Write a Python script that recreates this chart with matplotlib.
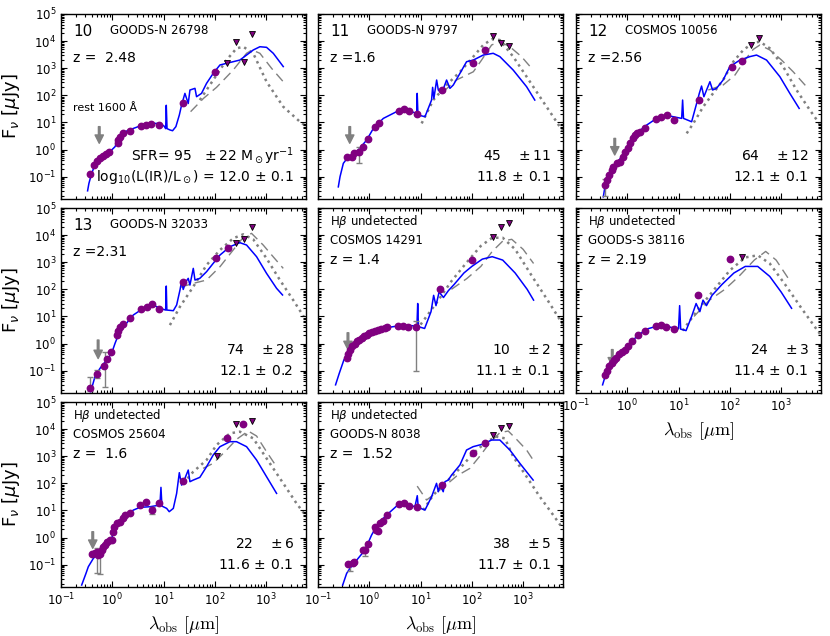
import numpy as np
import matplotlib
matplotlib.use('Agg')
import matplotlib.pyplot as plt
from matplotlib.ticker import LogLocator, NullFormatter

PURPLE = '#800080'
GREY = '0.5'

# ---------------- panel 10 : GOODS-N 26798 ----------------
p10_obs_lam = [0.36, 0.45, 0.50, 0.58, 0.67, 0.75, 0.88, 1.27, 1.31, 1.41, 1.64, 2.2, 3.6, 4.5, 5.8, 8.0, 24, 100]
p10_obs_flux = [0.13, 0.28, 0.38, 0.47, 0.57, 0.68, 0.83, 1.7, 2.2, 2.8, 4.0, 5.0, 7.4, 7.8, 8.7, 8.3, 50, 740]
p10_ul_lam = [175, 255, 365, 530]
p10_ul_flux = [1600, 9100, 1650, 17800]
p10_sed_lam = [0.33, 0.35, 0.38, 0.43, 0.50, 0.62, 0.78, 0.97, 1.13, 1.25, 1.52, 1.9, 2.57, 3.47, 4.68, 6.3,
               8.5, 10.2, 11.0, 11.3, 11.7, 13.3, 15.0, 17.4, 20.3, 22.5, 26.1, 30.3, 32.7, 41, 44, 55, 69,
               93, 126, 169, 228, 308, 416, 561, 757, 1020, 1380, 2160]
p10_sed_flux = [0.030, 0.056, 0.10, 0.20, 0.33, 0.54, 0.72, 0.96, 1.27, 1.95, 3.4, 4.8, 6.0, 7.4, 8.7, 9.2,
                9.2, 7.4, 5.9, 43, 5.9, 5.3, 4.95, 7.0, 18.7, 44, 118, 50, 157, 181, 89, 118, 277,
                645, 1320, 1510, 1740, 2000, 3060, 4700, 6200, 5900, 3550, 1150]
p10_dash_lam = [33.7, 60, 108, 228, 416, 536, 757, 1280, 2160]
p10_dash_flux = [25, 77, 197, 855, 3550, 4700, 3550, 990, 318]
p10_dot_lam = [51, 93, 169, 265, 358, 561, 1020, 2160, 4550, 8900]
p10_dot_flux = [67, 367, 2000, 5400, 6200, 3550, 318, 38, 10.7, 4.2]

# ---------------- panel 11 : GOODS-N 9797 ----------------
p11_obs_lam = [0.373, 0.467, 0.503, 0.64, 0.77, 0.96, 1.29, 1.57, 3.79, 4.74, 6.0, 8.4, 25.8, 107, 180]
p11_obs_flux = [0.54, 0.51, 0.76, 0.83, 1.27, 2.37, 7.0, 9.8, 27, 32, 25.6, 20.4, 157, 1510, 4700]
p11_ul_lam = [262, 375, 537]
p11_ul_flux = [15900, 8300, 6600]
p11_eb_lam = [0.64]
p11_eb_flux = [0.83]
p11_eb_lo = [0.50]
p11_eb_hi = [0.45]
p11_sed_lam = [0.249, 0.269, 0.312, 0.39, 0.57, 0.89, 1.20, 1.88, 3.41, 5.35, 8.4, 8.6, 8.9, 12.2, 16.4, 17.2,
               18.2, 20.6, 22.2, 25.8, 32.2, 37.4, 43.5, 58.6, 79, 107, 167, 261, 352, 641, 1170, 1690]
p11_sed_flux = [0.042, 0.10, 0.31, 0.54, 0.83, 2.24, 6.0, 14.1, 25, 28.6, 21.6, 118, 18.8, 16.3, 67, 197,
                77, 367, 157, 118, 367, 181, 240, 645, 1740, 2000, 3060, 3550, 2680, 855, 208, 67]
p11_dash_lam = [27.7, 50, 107, 155, 243, 352, 552, 931, 1570]
p11_dash_flux = [136, 367, 740, 2000, 7200, 9500, 6200, 2670, 857]
p11_dot_lam = [10.5, 17.7, 32, 59, 107, 167, 243, 352, 641, 1170, 2120, 3860, 6050]
p11_dot_flux = [9.2, 67, 240, 740, 2670, 7200, 11600, 11000, 2670, 488, 89, 16.3, 4.5]

# ---------------- panel 12 : COSMOS 10056 ----------------
p12_obs_lam = [0.367, 0.396, 0.44, 0.495, 0.534, 0.62, 0.72, 0.84, 0.90, 1.05, 1.13, 1.31, 1.41, 1.57, 1.77,
               2.21, 3.62, 4.54, 5.85, 8.26, 25.4, 108, 175]
p12_obs_flux = [0.049, 0.075, 0.115, 0.175, 0.233, 0.31, 0.356, 0.54, 0.83, 1.10, 1.69, 2.58, 3.43, 3.95, 4.55,
                6.4, 13.3, 15.4, 18.7, 12.3, 67, 1140, 1840]
p12_ul_lam = [262, 374]
p12_ul_flux = [7200, 13400]
p12_eb_lam = [0.367]
p12_eb_flux = [0.049]
p12_eb_lo = [0.03]
p12_eb_hi = [0.03]
p12_sed_lam = [0.341, 0.367, 0.46, 0.62, 0.97, 1.52, 2.39, 3.73, 6.8, 11.5, 12.0, 12.5, 18.0, 22.5, 25.4, 28.1,
               31.2, 35.2, 40.9, 46.1, 55, 74, 100, 157, 247, 332, 520, 946, 1480, 2250]
p12_sed_flux = [0.018, 0.043, 0.132, 0.31, 0.96, 3.95, 8.0, 14.1, 17.2, 14.1, 67, 14.1, 10.6, 50, 118, 220,
                89, 157, 318, 157, 181, 367, 1140, 2000, 2680, 3060, 2000, 488, 118, 33]
p12_dash_lam = [38, 74, 126, 197, 286, 386, 604, 1020, 1720, 3130]
p12_dash_flux = [157, 240, 560, 2000, 4960, 7200, 4700, 2000, 740, 208]
p12_dot_lam = [14.4, 19.4, 30.3, 47, 74, 117, 183, 286, 386, 604, 1100, 2000, 3640, 6140]
p12_dot_flux = [3.95, 9.2, 38, 118, 367, 1740, 4700, 8700, 9500, 5400, 1140, 157, 28.6, 7.0]

# ---------------- panel 13 : GOODS-N 32033 ----------------
p13_obs_lam = [0.367, 0.495, 0.70, 0.80, 0.93, 1.25, 1.31, 1.41, 1.64, 2.21, 3.62, 4.68, 6.03, 8.26, 24.2, 105, 177]
p13_obs_flux = [0.0235, 0.075, 0.152, 0.26, 0.485, 2.06, 2.98, 4.18, 5.25, 9.0, 18.2, 22.9, 27.9, 18.2, 191,
                1390, 3440]
p13_ul_lam = [258, 363, 536]
p13_ul_flux = [4960, 6920, 20500]
p13_eb_lam = [0.367, 0.495, 0.73]
p13_eb_flux = [0.0235, 0.075, 0.152]
p13_eb_lo = [0.005, 0.023, 0.127]
p13_eb_hi = [0.036, 0.030, 0.35]
p13_sed_lam = [0.379, 0.46, 0.575, 0.776, 0.97, 1.13, 1.31, 1.77, 2.57, 4.03, 6.31, 8.5, 11.0, 11.3, 11.6, 15.5,
               18.0, 20.9, 22.5, 24.2, 27.3, 30.3, 32.7, 38, 41, 51, 69, 93, 126, 197, 308, 416, 652, 1020,
               1600, 2090]
p13_sed_flux = [0.0167, 0.060, 0.121, 0.246, 0.434, 1.01, 2.06, 4.8, 11.3, 19.9, 26.4, 19.9, 17.2, 132, 17.2,
                16.3, 26.4, 94, 191, 99, 191, 254, 144, 593, 220, 254, 447, 908, 1840, 3740, 5260, 4310,
                1600, 389, 109, 62]
p13_dash_lam = [20.9, 38, 69, 126, 228, 358, 520, 877, 1370, 2160]
p13_dash_flux = [118, 166, 220, 684, 2820, 8260, 11600, 4310, 1600, 593]
p13_dot_lam = [13.3, 20.9, 38, 69, 126, 228, 358, 561, 1020, 1860, 3380, 5440]
p13_dot_flux = [4.8, 22.9, 125, 789, 2820, 7600, 10700, 6980, 1390, 220, 40, 9.8]

# ---------------- panel 14 : COSMOS 14291 ----------------
p14_obs_lam = [0.36, 0.39, 0.43, 0.47, 0.52, 0.58, 0.64, 0.72, 0.8, 0.9, 1.0, 1.15, 1.3, 1.5, 1.7, 2.0, 2.2,
               3.6, 4.5, 5.8, 8.0, 24, 100]
p14_obs_flux = [0.3, 0.4, 0.6, 0.8, 1.0, 1.2, 1.4, 1.6, 1.9, 2.1, 2.4, 2.7, 3.0, 3.2, 3.5, 3.8, 4.0,
                4.3, 4.6, 4.2, 4.0, 100, 1200]
p14_ul_lam = [262, 375, 537]
p14_ul_flux = [8500, 20000, 28000]
p14_eb_lam = [8.0]
p14_eb_flux = [4.0]
p14_eb_lo = [3.9]
p14_eb_hi = [3.0]
p14_sed_lam = [0.22, 0.26, 0.32, 0.45, 0.7, 1.0, 1.6, 2.5, 4.0, 6.5, 8.5, 8.8, 9.1, 12, 16, 18, 20, 23, 28,
               35, 45, 70, 100, 160, 250, 400, 700, 1200, 1600]
p14_sed_flux = [0.03, 0.08, 0.25, 0.6, 1.3, 2.2, 3.2, 4.0, 4.6, 4.6, 4.3, 30, 4.2, 3.6, 15, 60, 25, 80, 50,
                90, 150, 400, 700, 1300, 1600, 1200, 400, 100, 40]
p14_dash_lam = [40, 80, 150, 250, 400, 600, 1000, 1600]
p14_dash_flux = [100, 250, 700, 2500, 6000, 7000, 3000, 900]
p14_dot_lam = [10, 20, 40, 80, 150, 250, 400, 700, 1500, 3000, 6000]
p14_dot_flux = [5, 30, 200, 1000, 4000, 8000, 8000, 3000, 300, 40, 5]

# ---------------- panel 15 : GOODS-S 38116 ----------------
p15_obs_lam = [0.36, 0.40, 0.45, 0.5, 0.55, 0.6, 0.7, 0.8, 0.9, 1.05, 1.25, 1.6, 2.2, 3.6, 4.5, 5.8, 8.0, 24, 100]
p15_obs_flux = [0.07, 0.1, 0.15, 0.2, 0.25, 0.3, 0.4, 0.5, 0.6, 0.8, 1.2, 2.0, 3.0, 4.5, 4.8, 4.0, 3.5, 60, 1300]
p15_ul_lam = [175]
p15_ul_flux = [1500]
p15_sed_lam = [0.33, 0.4, 0.6, 1.0, 1.6, 2.5, 4.0, 7.0, 10, 10.5, 11, 14, 18, 22, 26, 30, 35, 45, 70, 120,
               200, 350, 600, 1000, 1600]
p15_sed_flux = [0.03, 0.1, 0.3, 0.8, 2.0, 3.5, 4.5, 4.0, 3.5, 25, 3.4, 3.0, 10, 30, 15, 40, 25, 60, 150, 400,
                700, 700, 300, 80, 20]
p15_dash_lam = [20, 40, 80, 150, 300, 500, 800, 1500]
p15_dash_flux = [10, 40, 100, 300, 1200, 2500, 1200, 200]
p15_dot_lam = [12, 25, 50, 100, 200, 350, 600, 1200, 2500, 6000]
p15_dot_flux = [3, 20, 100, 500, 1500, 1800, 900, 150, 20, 2]

# ---------------- panel 16 : COSMOS 25604 ----------------
p16_obs_lam = [0.396, 0.46, 0.495, 0.534, 0.575, 0.62, 0.668, 0.72, 0.776, 0.90, 0.97, 1.05, 1.08, 1.22, 1.41,
               1.64, 1.77, 2.21, 3.47, 4.54, 5.85, 8.26, 24.2, 175, 358]
p16_obs_flux = [0.246, 0.26, 0.30, 0.226, 0.246, 0.346, 0.46, 0.53, 0.70, 0.81, 0.81, 1.64, 2.51, 3.33, 3.84,
                5.1, 6.76, 7.8, 15.8, 21, 10.3, 18.2, 122, 4570, 15000]
p16_ul_lam = [108, 258, 528]
p16_ul_flux = [1050, 15000, 20500]
p16_eb_lam = [0.495, 0.575, 5.85]
p16_eb_flux = [0.30, 0.246, 10.3]
p16_eb_lo = [0.25, 0.20, 3.0]
p16_eb_hi = [0.10, 0.10, 3.0]
p16_sed_lam = [0.253, 0.307, 0.341, 0.427, 0.575, 0.776, 0.97, 1.05, 1.41, 1.9, 2.57, 3.47, 5.43, 8.5, 8.9,
               9.3, 11.5, 12.9, 15.5, 18.0, 20.3, 22.5, 26.1, 30.3, 32.7, 38, 51, 69, 93, 126, 197, 265, 416,
               652, 1020, 1600]
p16_sed_flux = [0.0177, 0.0476, 0.084, 0.17, 0.30, 0.46, 0.81, 1.89, 3.84, 6.76, 10.3, 13.0, 13.7, 15.8, 71,
                14.5, 11.9, 9.0, 11.9, 42.6, 247, 86, 153, 309, 115, 132, 166, 411, 1110, 2250, 3440, 3440,
                2250, 724, 176, 42.6]
p16_dash_lam = [59, 93, 169, 265, 448, 652, 1020, 1600]
p16_dash_flux = [357, 546, 1690, 4190, 8500, 5560, 1470, 410]
p16_dot_lam = [24.2, 38, 69, 108, 197, 308, 561, 1020, 2160, 3920, 6140]
p16_dot_flux = [100, 268, 724, 2590, 6980, 8040, 4560, 834, 100, 18.2, 5.9]

# ---------------- panel 17 : GOODS-N 8038 ----------------
p17_obs_lam = [0.39, 0.474, 0.503, 0.743, 0.824, 0.96, 1.29, 1.35, 1.50, 1.62, 1.82, 2.25, 3.73, 4.81, 6.03,
               8.38, 25.8, 107, 180]
p17_obs_flux = [0.102, 0.111, 0.128, 0.346, 0.346, 0.575, 2.51, 1.89, 1.79, 3.52, 4.06, 6.76, 16.7, 19.3, 14.5,
                13.0, 86, 1280, 3160]
p17_ul_lam = [262, 375, 537]
p17_ul_flux = [6050, 10700, 13400]
p17_eb_lam = [0.42, 0.824]
p17_eb_flux = [0.102, 0.346]
p17_eb_lo = [0.045, 0.14]
p17_eb_hi = [0.02, 0.12]
p17_sed_lam = [0.303, 0.362, 0.42, 0.57, 0.824, 1.11, 1.50, 2.18, 3.41, 5.35, 7.78, 8.63, 9.02, 12.2, 16.4,
               20.5, 22.2, 23.9, 27.7, 29.9, 34.7, 40.3, 58.5, 78.9, 106, 167, 243, 352, 552, 865, 1570]
p17_sed_flux = [0.0177, 0.0476, 0.073, 0.148, 0.346, 1.24, 3.33, 6.76, 14.5, 17.2, 13.7, 35, 13.0, 10.3, 32,
                100, 49, 86, 49, 115, 132, 202, 473, 1690, 2250, 2820, 3960, 3960, 1690, 546, 132]
p17_dash_lam = [8.6, 13.1, 27.7, 50.5, 91.8, 144, 225, 352, 513, 745, 1170, 1570]
p17_dash_flux = [79, 24.2, 71, 186, 357, 1020, 3160, 7380, 8500, 4190, 1690, 724]
p17_dot_lam = [11.3, 17.7, 32.2, 58.6, 107, 194, 303, 442, 641, 1170, 2120, 3860, 5610]
p17_dot_flux = [10.3, 37, 115, 357, 1280, 3440, 5260, 4560, 962, 176, 32, 6.8, 2.51]

# ---------------- per-panel labels ----------------
num_labels = ['10', '11', '12', '13', '', '', '', '']
names = ['GOODS-N 26798', 'GOODS-N 9797', 'COSMOS 10056', 'GOODS-N 32033',
         'COSMOS 14291', 'GOODS-S 38116', 'COSMOS 25604', 'GOODS-N 8038']
z_labels = ['z =  2.48', 'z =1.6', 'z =2.56', 'z =2.31', 'z = 1.4', 'z = 2.19', 'z =  1.6', 'z =  1.52']
hb_undetected = [False, False, False, False, True, True, True, True]
sfr = ['95', '45', '64', '74', '10', '24', '22', '38']
sfr_err = ['22', '11', '12', '28', '2', '3', '6', '5']
lir = ['12.0', '11.8', '12.1', '12.1', '11.1', '11.4', '11.6', '11.7']
lir_err = ['0.1', '0.1', '0.1', '0.2', '0.1', '0.1', '0.1', '0.1']
# rest-frame 1600 A marker: wavelength (um), arrow top and tip flux (uJy)
arrow_lam = [0.557, 0.416, 0.570, 0.53, 0.384, 0.51, 0.416, None]
arrow_top = [7.0, 7.0, 2.58, 1.35, 2.5, 0.6, 1.64, None]
arrow_tip = [1.7, 1.7, 0.63, 0.28, 0.6, 0.15, 0.40, None]

panels = [
    dict(obs=(p10_obs_lam, p10_obs_flux), ul=(p10_ul_lam, p10_ul_flux), eb=None,
         sed=(p10_sed_lam, p10_sed_flux), dash=(p10_dash_lam, p10_dash_flux), dot=(p10_dot_lam, p10_dot_flux)),
    dict(obs=(p11_obs_lam, p11_obs_flux), ul=(p11_ul_lam, p11_ul_flux),
         eb=(p11_eb_lam, p11_eb_flux, p11_eb_lo, p11_eb_hi),
         sed=(p11_sed_lam, p11_sed_flux), dash=(p11_dash_lam, p11_dash_flux), dot=(p11_dot_lam, p11_dot_flux)),
    dict(obs=(p12_obs_lam, p12_obs_flux), ul=(p12_ul_lam, p12_ul_flux),
         eb=(p12_eb_lam, p12_eb_flux, p12_eb_lo, p12_eb_hi),
         sed=(p12_sed_lam, p12_sed_flux), dash=(p12_dash_lam, p12_dash_flux), dot=(p12_dot_lam, p12_dot_flux)),
    dict(obs=(p13_obs_lam, p13_obs_flux), ul=(p13_ul_lam, p13_ul_flux),
         eb=(p13_eb_lam, p13_eb_flux, p13_eb_lo, p13_eb_hi),
         sed=(p13_sed_lam, p13_sed_flux), dash=(p13_dash_lam, p13_dash_flux), dot=(p13_dot_lam, p13_dot_flux)),
    dict(obs=(p14_obs_lam, p14_obs_flux), ul=(p14_ul_lam, p14_ul_flux),
         eb=(p14_eb_lam, p14_eb_flux, p14_eb_lo, p14_eb_hi),
         sed=(p14_sed_lam, p14_sed_flux), dash=(p14_dash_lam, p14_dash_flux), dot=(p14_dot_lam, p14_dot_flux)),
    dict(obs=(p15_obs_lam, p15_obs_flux), ul=(p15_ul_lam, p15_ul_flux), eb=None,
         sed=(p15_sed_lam, p15_sed_flux), dash=(p15_dash_lam, p15_dash_flux), dot=(p15_dot_lam, p15_dot_flux)),
    dict(obs=(p16_obs_lam, p16_obs_flux), ul=(p16_ul_lam, p16_ul_flux),
         eb=(p16_eb_lam, p16_eb_flux, p16_eb_lo, p16_eb_hi),
         sed=(p16_sed_lam, p16_sed_flux), dash=(p16_dash_lam, p16_dash_flux), dot=(p16_dot_lam, p16_dot_flux)),
    dict(obs=(p17_obs_lam, p17_obs_flux), ul=(p17_ul_lam, p17_ul_flux),
         eb=(p17_eb_lam, p17_eb_flux, p17_eb_lo, p17_eb_hi),
         sed=(p17_sed_lam, p17_sed_flux), dash=(p17_dash_lam, p17_dash_flux), dot=(p17_dot_lam, p17_dot_flux)),
]

fig = plt.figure(figsize=(8.3, 6.36), dpi=100)
fw, fh = 830.0, 636.0
col_left = [61, 318, 576]
row_top = [14, 208, 402]
pw, ph = 245, 185

for i, p in enumerate(panels):
    r, c = divmod(i, 3)
    ax = fig.add_axes([col_left[c] / fw, 1 - (row_top[r] + ph) / fh, pw / fw, ph / fh])
    ax.set_xscale('log')
    ax.set_yscale('log')

    ax.plot(*p['dot'], color=GREY, ls=(0, (1, 1.6)), lw=1.8, zorder=1)
    ax.plot(*p['dash'], color=GREY, ls=(0, (7, 4)), lw=1.0, zorder=1)
    ax.plot(*p['sed'], color='blue', lw=1.1, zorder=2)

    if p['eb'] is not None:
        lam, fl, lo, hi = p['eb']
        ax.errorbar(lam, fl, yerr=[lo, hi], fmt='none', ecolor=GREY, elinewidth=1.0,
                    capsize=2.5, zorder=3)
    ax.plot(*p['obs'], 'o', color=PURPLE, ms=4.6, mec=PURPLE, zorder=4)
    ax.plot(*p['ul'], 'v', color=PURPLE, ms=4.6, mec='black', mew=0.6, zorder=4)

    if arrow_lam[i] is not None:
        ax.annotate('', xy=(arrow_lam[i], arrow_tip[i]), xytext=(arrow_lam[i], arrow_top[i]),
                    arrowprops=dict(facecolor=GREY, edgecolor=GREY, width=1.2, headwidth=6,
                                    headlength=6, shrink=0), zorder=3)

    ax.set_xlim(0.1, 6000)
    ax.set_ylim(0.015, 1e5)
    ax.xaxis.set_major_locator(LogLocator(base=10, numticks=20))
    ax.yaxis.set_major_locator(LogLocator(base=10, numticks=20))
    ax.xaxis.set_minor_locator(LogLocator(base=10, subs=np.arange(2, 10), numticks=40))
    ax.yaxis.set_minor_locator(LogLocator(base=10, subs=np.arange(2, 10), numticks=40))
    ax.xaxis.set_minor_formatter(NullFormatter())
    ax.yaxis.set_minor_formatter(NullFormatter())
    ax.tick_params(which='both', direction='in', top=True, right=True, labelsize=8.5, width=0.8)
    ax.tick_params(which='major', length=4)
    ax.tick_params(which='minor', length=2)
    for s in ax.spines.values():
        s.set_linewidth(1.0)

    if c != 0:
        ax.tick_params(labelleft=False)
    else:
        ax.set_ylabel(r'F$_\nu$ [$\mu$Jy]', fontsize=13)
    if r == 2 or i == 5:
        ax.set_xlabel(r'$\lambda_{\rm obs}\ [\mu{\rm m}]$', fontsize=13, math_fontfamily='cm')
    else:
        ax.tick_params(labelbottom=False)

    # labels
    if hb_undetected[i]:
        ax.text(0.05, 0.925, r'H$\beta$ undetected', transform=ax.transAxes, fontsize=8.5, va='center')
        ax.text(0.05, 0.825, names[i], transform=ax.transAxes, fontsize=8.5, va='center')
        ax.text(0.05, 0.72, z_labels[i], transform=ax.transAxes, fontsize=10, va='center')
    else:
        ax.text(0.05, 0.905, num_labels[i], transform=ax.transAxes, fontsize=11, va='center')
        ax.text(0.20, 0.91, names[i], transform=ax.transAxes, fontsize=8.5, va='center')
        ax.text(0.05, 0.76, z_labels[i], transform=ax.transAxes, fontsize=10, va='center')

    if i == 0:
        ax.text(0.05, 0.49, u'rest 1600 \u00c5', transform=ax.transAxes, fontsize=8, va='center')
        line1 = 'SFR= ' + sfr[i] + r'   $\pm\,$' + sfr_err[i] + r' M$_\odot$yr$^{-1}$'
        line2 = r'log$_{10}$(L(IR)/L$_\odot$) = ' + lir[i] + r'$\,\pm\,$' + lir_err[i]
    else:
        line1 = sfr[i] + r'    $\pm\,$' + sfr_err[i]
        line2 = lir[i] + r'$\,\pm\,$' + lir_err[i]
    ax.text(0.95, 0.23, line1, transform=ax.transAxes, fontsize=10, ha='right', va='center')
    ax.text(0.95, 0.12, line2, transform=ax.transAxes, fontsize=10, ha='right', va='center')

fig.savefig('out.png', dpi=100)
